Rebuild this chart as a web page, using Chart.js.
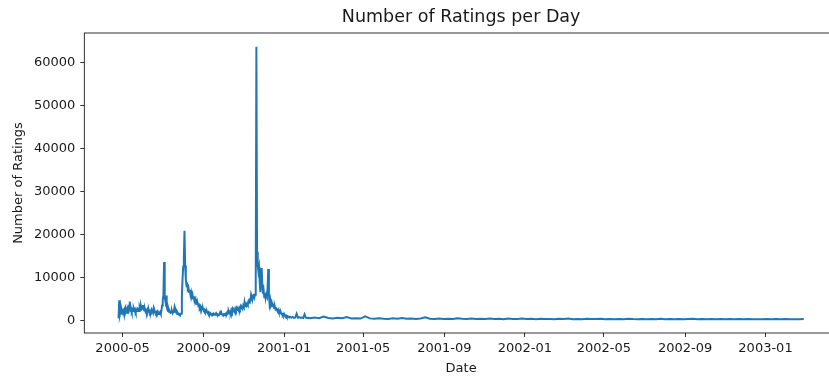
<!DOCTYPE html>
<html>
<head>
<meta charset="utf-8">
<script src="https://cdn.jsdelivr.net/npm/chart.js@4.4.1/dist/chart.umd.min.js"></script>
<style>
  html, body { margin: 0; padding: 0; background: #fff; overflow: hidden; }
  #wrap { position: absolute; left: 0; top: 0; width: 850px; height: 376px; }
</style>
</head>
<body>
<div id="wrap"><canvas id="ratingsChart" width="850" height="376"></canvas></div>
<script>
const DAY_MS = 86400000;
const startDate = Date.UTC(2000, 3, 25); // first day of ratings

// one value per day, starting at startDate (2000-04-25 .. 2001-01-10)
const dailyRatings = [
  500, 4700, 1300, 2000, 1600, 2400, 1800, 2200, 1600, 2600,
  3000, 2000, 2400, 1800, 2700, 2300, 3500, 4400, 2500, 2800,
  2100, 2500, 2200, 2800, 2300, 2600, 2000, 2400, 2200, 2800,
  2700, 2200, 3000, 2500, 3300, 2700, 3000, 3600, 2500, 2300,
  2600, 2000, 2300, 1900, 2500, 2100, 2300, 1700, 2100, 1900,
  2500, 2100, 1800, 2700, 1900, 2100, 1600, 1900, 1600, 2000,
  1500, 1800, 1600, 1900, 1500, 2300, 3500, 4800, 5800, 13600,
  5400, 4500, 5800, 3300, 2500, 2200, 2500, 1900, 2100, 1800,
  2000, 2200, 1700, 2000, 2300, 3200, 2700, 1900, 1900, 1500,
  1700, 1400, 1500, 1300, 1400, 1600, 5500, 9600, 12500, 14500,
  20900, 12800, 9500, 8200, 8400, 7300, 7600, 6600, 7100, 6000,
  6600, 5600, 6100, 5100, 5600, 4600, 5000, 4200, 4500, 3800,
  4000, 3400, 3600, 3000, 3300, 2800, 3000, 2600, 2800, 2300,
  2500, 2100, 2300, 1900, 2100, 1700, 1900, 1500, 1700, 1400,
  1500, 1300, 1500, 1400, 1600, 1300, 1400, 1500, 1700, 1400,
  1400, 1200, 1300, 1400, 1900, 2300, 1500, 1500, 1300, 1400,
  1200, 1400, 1300, 1600, 1500, 1900, 1600, 2200, 1800, 2000,
  1800, 2400, 2000, 2600, 2100, 2300, 2000, 2700, 2300, 2800,
  2400, 2600, 2300, 2900, 2600, 3200, 2800, 3000, 2700, 3400,
  3100, 4200, 3300, 3700, 3400, 3900, 3600, 4400, 4100, 4800,
  4700, 6000, 5400, 4900, 5600, 6200, 5400, 6000, 8000, 63800,
  16000, 12800, 11500, 12400, 9000, 6600, 9500, 12200, 8200, 6200,
  7000, 5400, 6400, 5200, 6000, 5600, 7500, 12000, 6000, 3900,
  4800, 3700, 4200, 3300, 3700, 3400, 2900, 3200, 2600, 2800,
  2500, 2200, 2500, 2000, 2200, 1700, 1900, 1500, 1550, 1200,
  1400, 1100, 1200, 900, 1100, 800, 950, 750, 800, 700, 850
];

// later, quieter period: day offsets from startDate and their counts
const laterDays = [
  262, 264, 266, 268, 270, 272, 274, 276, 278, 280, 282, 284, 286, 288, 290,
  297, 304, 311, 318, 325, 332, 339, 346, 353, 360, 367, 374, 381, 388, 395,
  402, 409, 416, 423, 430, 437, 444, 451, 458, 465, 472, 479, 486, 493, 500,
  507, 514, 521, 528, 535, 542, 549, 556, 563, 570, 577, 584, 591, 598, 605,
  612, 619, 626, 633, 640, 647, 654, 661, 668, 675, 682, 689, 696, 703, 710,
  717, 724, 731, 738, 745, 752, 759, 766, 773, 780, 787, 794, 801, 808, 815,
  822, 829, 836, 843, 850, 857, 864, 871, 878, 885, 892, 899, 906, 913, 920,
  927, 934, 941, 948, 955, 962, 969, 976, 983, 990, 997, 1004, 1011, 1018, 1025,
  1032, 1039
];
const laterRatings = [
  650, 800, 600, 700, 1550, 650, 700, 600, 650, 550, 1400, 650, 550, 600, 500,
  650, 520, 880, 560, 470, 610, 500, 780, 440, 520, 430, 950, 470, 380, 520,
  410, 350, 480, 390, 560, 360, 450, 330, 420, 700, 380, 340, 460, 350, 410,
  320, 520, 360, 300, 430, 340, 390, 310, 460, 330, 380, 290, 420, 340, 310,
  450, 330, 360, 280, 410, 320, 350, 270, 380, 300, 430, 290, 340, 260, 370,
  300, 330, 410, 270, 350, 290, 320, 260, 390, 300, 280, 350, 260, 330, 290,
  380, 250, 320, 280, 340, 260, 310, 370, 250, 300, 270, 340, 240, 310, 280,
  330, 250, 300, 260, 350, 240, 290, 270, 320, 240, 300, 260, 330, 250, 290,
  260, 310
];

const xTickLabels = ["2000-05", "2000-09", "2001-01", "2001-05", "2001-09",
                     "2002-01", "2002-05", "2002-09", "2003-01"];
const yTickValues = [0, 10000, 20000, 30000, 40000, 50000, 60000];

const points = dailyRatings.map((v, i) => ({ x: startDate + i * DAY_MS, y: v }))
  .concat(laterDays.map((d, i) => ({ x: startDate + d * DAY_MS, y: laterRatings[i] })));

// matplotlib style 5% margins
const xs = points.map(p => p.x), ys = points.map(p => p.y);
const xMin = Math.min(...xs), xMax = Math.max(...xs);
const yMin = Math.min(...ys), yMax = Math.max(...ys);
const xPad = (xMax - xMin) * 0.05, yPad = (yMax - yMin) * 0.05;

const textColor = "#1a1a1a";
const family = "'DejaVu Sans', sans-serif";
const tickFont = { family: family, size: 13 };

// draws the full frame around the plot like matplotlib spines
const framePlugin = {
  id: "frame",
  afterDatasetsDraw(chart) {
    const a = chart.chartArea, ctx = chart.ctx;
    ctx.save();
    ctx.strokeStyle = "#000";
    ctx.lineWidth = 0.8;
    ctx.strokeRect(a.left, a.top, a.right - a.left, a.bottom - a.top);
    ctx.restore();
  }
};

const ctx = document.getElementById("ratingsChart").getContext("2d");
new Chart(ctx, {
  type: "line",
  data: {
    datasets: [{
      data: points,
      borderColor: "#1f77b4",
      borderWidth: 2,
      pointRadius: 0,
      tension: 0,
      fill: false
    }]
  },
  options: {
    responsive: false,
    animation: false,
    devicePixelRatio: 1,
    layout: { padding: { left: 0, right: 12, top: 0, bottom: 0 } },
    plugins: {
      legend: { display: false },
      tooltip: { enabled: false },
      title: {
        display: true,
        text: "Number of Ratings per Day",
        fullSize: false,
        color: textColor,
        font: { family: family, size: 17.5, weight: "normal" },
        padding: { top: 7, bottom: 5 }
      }
    },
    scales: {
      x: {
        type: "linear",
        min: xMin - xPad,
        max: xMax + xPad,
        border: { display: false },
        grid: { drawOnChartArea: false, drawTicks: true, tickLength: 4, color: "#000", lineWidth: 0.8 },
        ticks: {
          color: textColor,
          font: tickFont,
          padding: 4,
          maxRotation: 0,
          autoSkip: false,
          callback: v => new Date(v).toISOString().slice(0, 7)
        },
        afterBuildTicks: s => {
          s.ticks = xTickLabels.map(l => ({ value: Date.UTC(+l.slice(0, 4), +l.slice(5) - 1, 1) }));
        },
        title: { display: true, text: "Date", color: textColor, font: tickFont, padding: { top: 0, bottom: 0 } },
        afterFit: s => { s.height = 43; }
      },
      y: {
        min: yMin - yPad,
        max: yMax + yPad,
        border: { display: false },
        grid: { drawOnChartArea: false, drawTicks: true, tickLength: 4, color: "#000", lineWidth: 0.8 },
        ticks: {
          color: textColor,
          font: tickFont,
          padding: 5,
          callback: v => String(v)
        },
        afterBuildTicks: s => {
          s.ticks = yTickValues.map(v => ({ value: v }));
        },
        title: { display: true, text: "Number of Ratings", color: textColor, font: tickFont, padding: { top: 11, bottom: 0 } },
        afterFit: s => { s.width = 84.3; }
      }
    }
  },
  plugins: [framePlugin]
});
</script>
</body>
</html>
